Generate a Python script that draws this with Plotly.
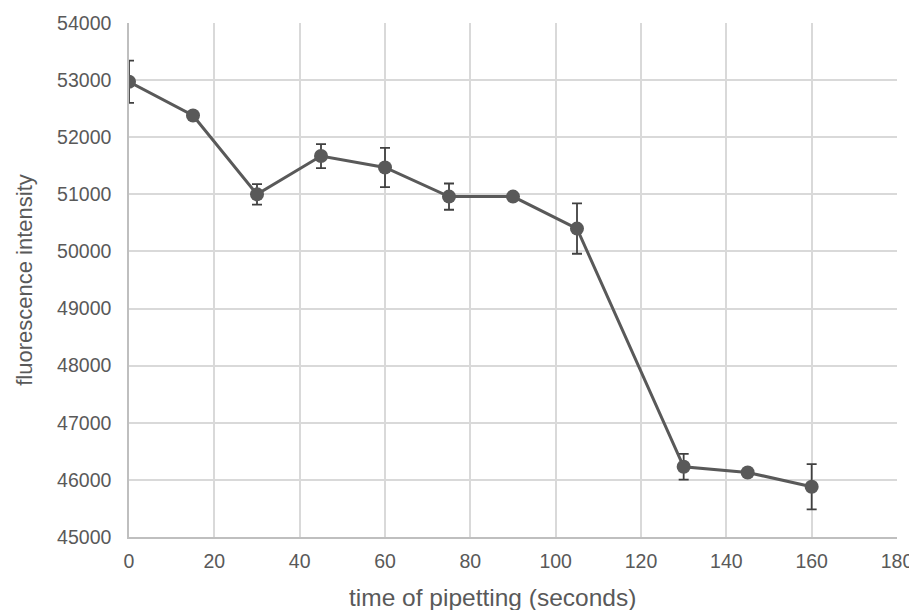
import plotly.graph_objects as go

time_s = [0, 15, 30, 45, 60, 75, 90, 105, 130, 145, 160]
intensity = [52970, 52380, 51000, 51670, 51470, 50960, 50960, 50400, 46230, 46130, 45880]
error = [370, 40, 180, 210, 345, 230, 40, 440, 225, 40, 395]

x_ticks = [0, 20, 40, 60, 80, 100, 120, 140, 160, 180]
y_ticks = [45000, 46000, 47000, 48000, 49000, 50000, 51000, 52000, 53000, 54000]
y_ticktext = [str(v) for v in y_ticks]

fig = go.Figure()
fig.add_trace(go.Scatter(
    x=time_s, y=intensity, mode="lines+markers",
    line=dict(color="#595959", width=3),
    marker=dict(color="#595959", size=14),
    error_y=dict(type="data", array=error, visible=True, color="#404040", thickness=1.8, width=5),
    showlegend=False,
))

font = "Liberation Sans, Arial, sans-serif"
# page body has an 8px margin, so the figure is sized/offset to compensate
fig.update_layout(
    width=909, height=602,
    margin=dict(l=121, r=20, t=15, b=73, autoexpand=False),
    paper_bgcolor="white", plot_bgcolor="white",
    font=dict(family=font, color="#595959", size=19.5),
    xaxis=dict(range=[0, 180], tickvals=x_ticks, showgrid=True, gridcolor="#d9d9d9", gridwidth=1.5,
               zeroline=False, showline=True, linecolor="#bfbfbf", linewidth=1.5,
               ticks="", tickfont=dict(size=19.5, color="#595959"), ticklabelstandoff=6,
               automargin=False),
    yaxis=dict(range=[45000, 54000], tickvals=y_ticks, ticktext=y_ticktext, showgrid=True,
               gridcolor="#d9d9d9", gridwidth=1.5,
               zeroline=False, showline=True, linecolor="#bfbfbf", linewidth=1.5,
               ticks="", tickfont=dict(size=19.5, color="#595959"), ticklabelstandoff=12,
               automargin=False),
    annotations=[
        dict(text="time of pipetting (seconds)", xref="paper", yref="paper", x=0.473, y=-0.118,
             xanchor="center", yanchor="middle", showarrow=False,
             font=dict(size=24.5, color="#595959", family=font)),
        dict(text="fluorescence intensity", xref="paper", yref="paper", x=-0.137, y=0.5,
             xanchor="center", yanchor="middle", showarrow=False, textangle=-90,
             font=dict(size=22, color="#595959", family=font)),
    ],
)
fig.write_html("out.html")
